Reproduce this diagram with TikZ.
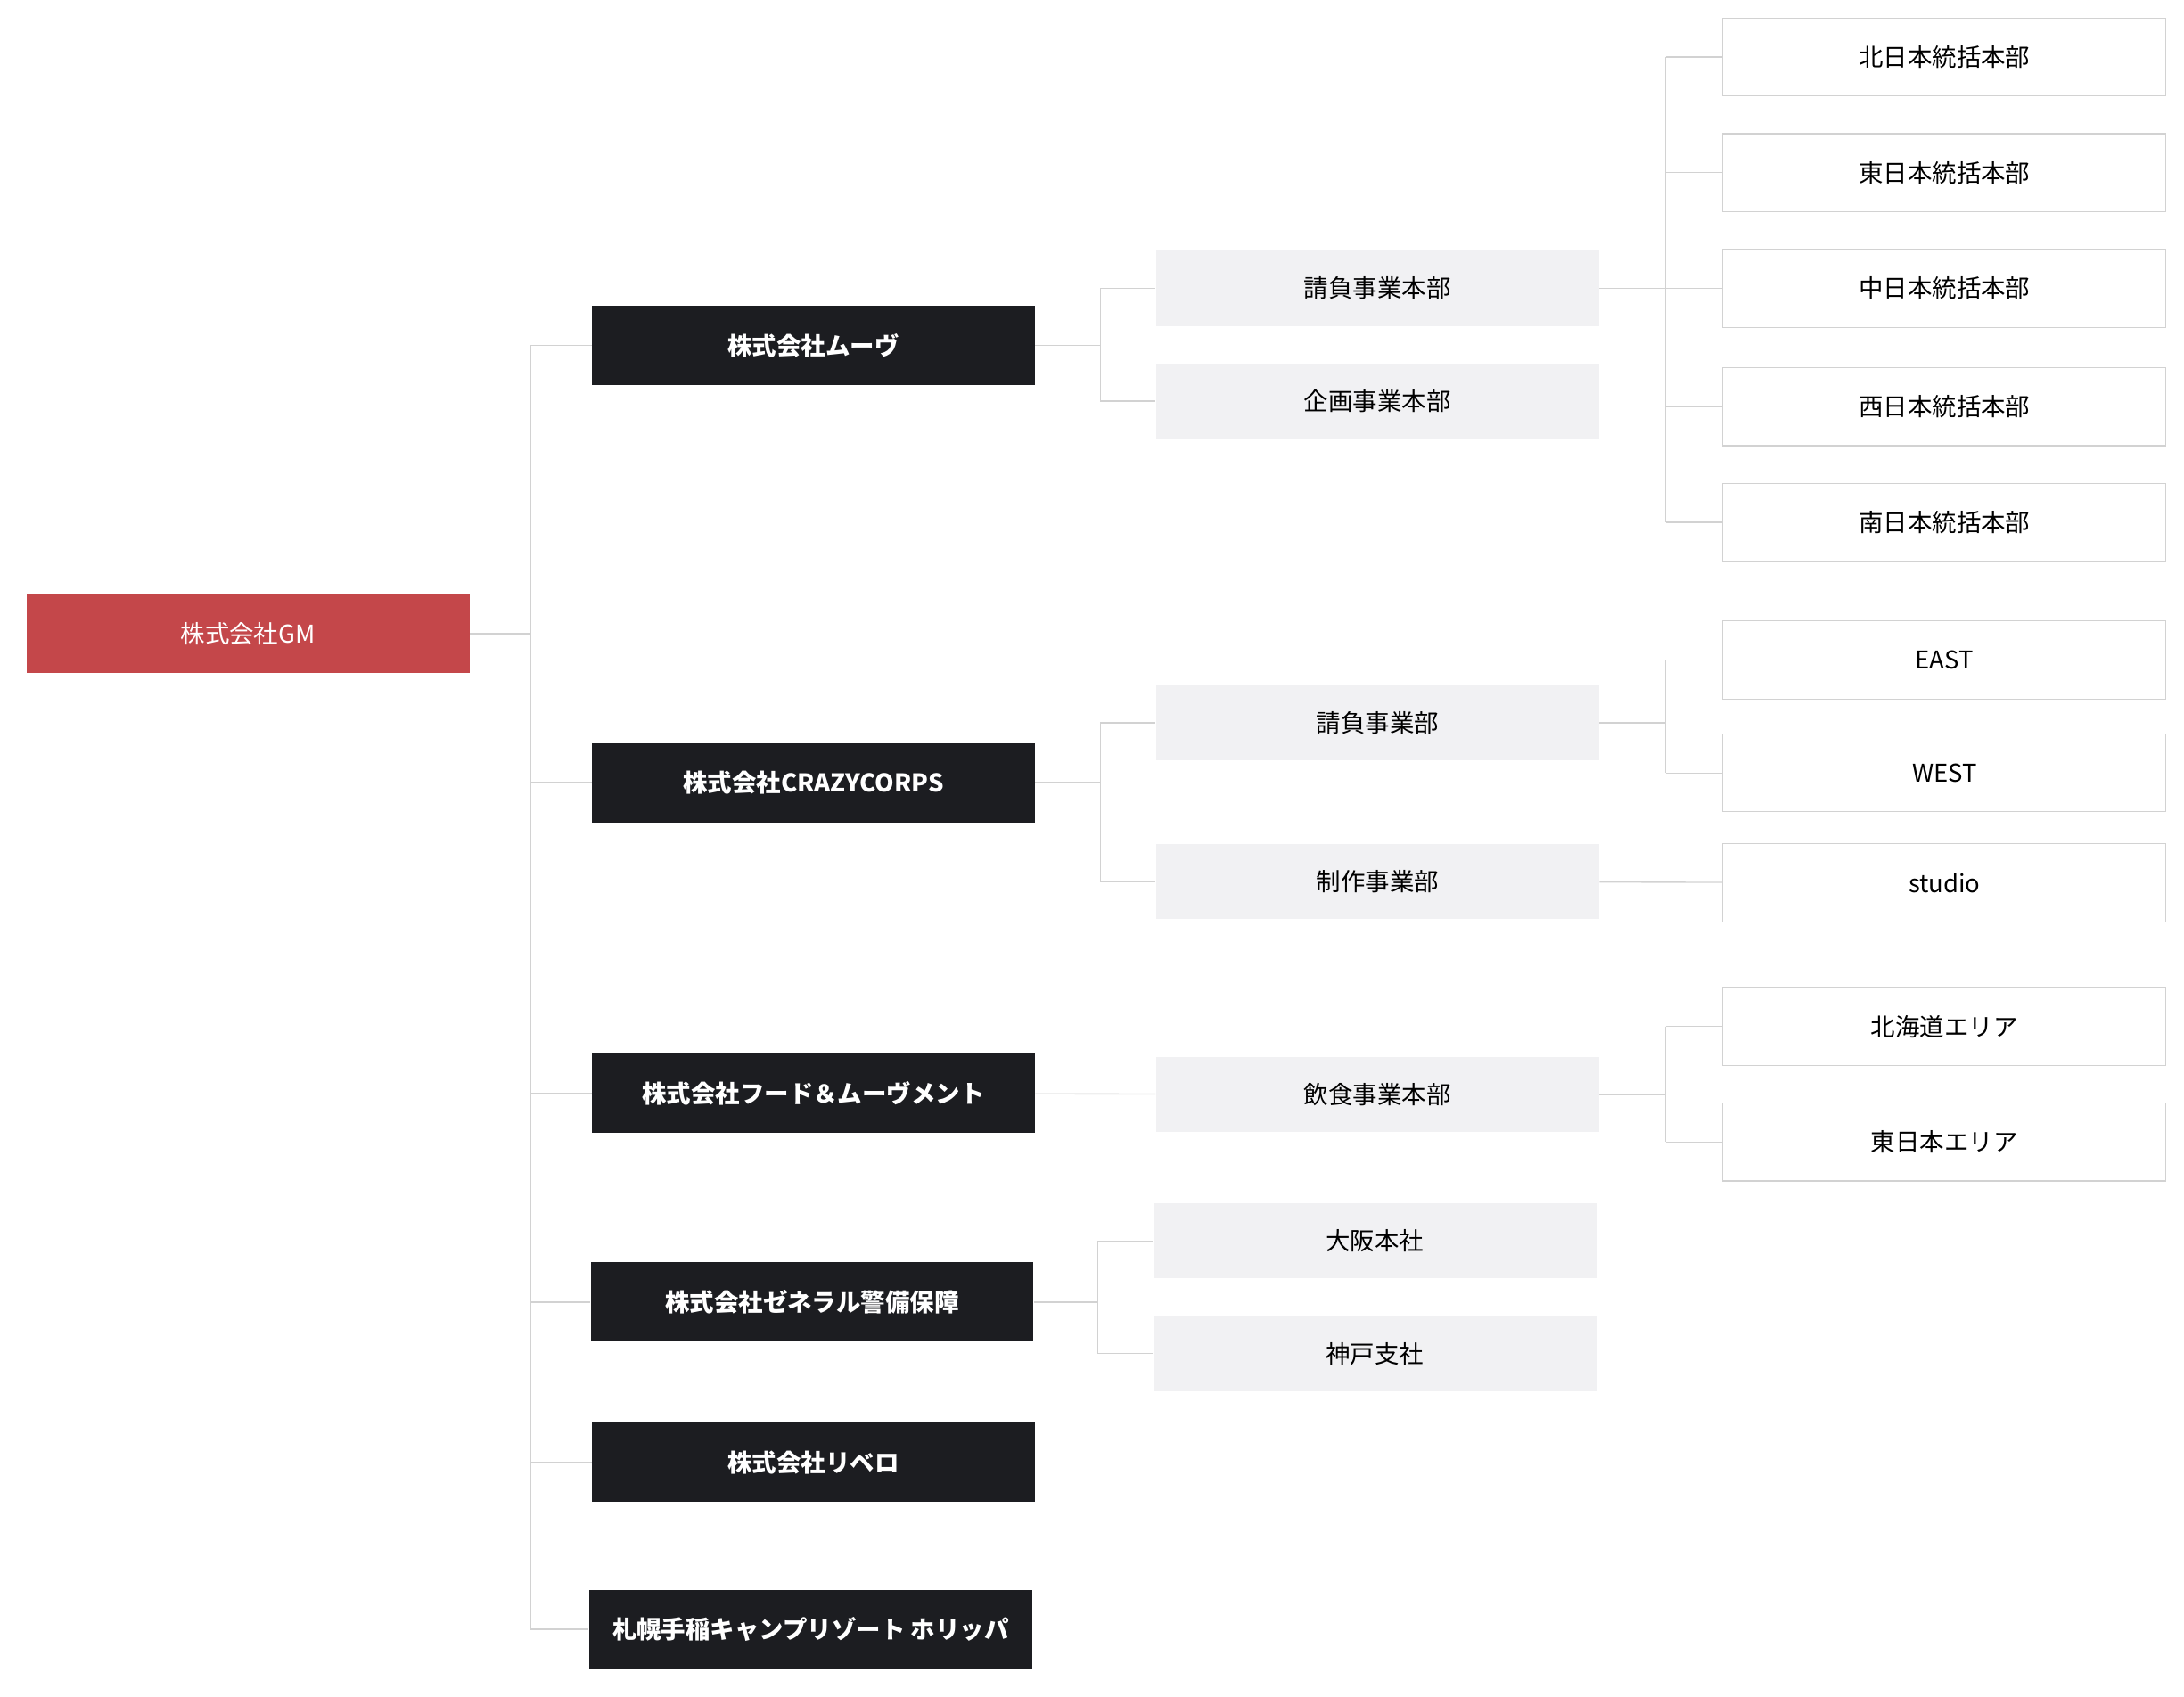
\documentclass[tikz,border=0pt]{standalone}
\usepackage{fontspec}
\setmainfont{Noto Sans CJK JP}
\usetikzlibrary{positioning}
\definecolor{gmred}{RGB}{196, 71, 74}
\definecolor{corpblack}{RGB}{28, 29, 33}
\definecolor{deptgray}{RGB}{241, 241, 243}
\definecolor{linegray}{RGB}{210, 210, 210}
\tikzset{
  top/.style = {rectangle, minimum width=6.36cm, minimum height=1.14cm, text centered, fill=gmred, text=white, font=\fontsize{10}{12}\selectfont},
  company/.style = {rectangle, minimum width=6.36cm, minimum height=1.14cm, text centered, fill=corpblack, text=white, font=\fontsize{10}{12}\selectfont\bfseries},
  dept/.style = {rectangle, minimum width=6.36cm, minimum height=1.08cm, text centered, fill=deptgray, text=black, font=\fontsize{10}{12}\selectfont},
  unit/.style = {rectangle, minimum width=6.36cm, minimum height=1.12cm, text centered, draw=linegray, fill=white, text=black, font=\fontsize{10}{12}\selectfont},
  link/.style = {draw=linegray, line width=0.5pt}
}

\begin{document}
\begin{tikzpicture}[x=0.02cm, y=-0.02cm]
\useasboundingbox (0,0) rectangle (1568,1218);

% Top
\node (gm) [top] at (178,455) {株式会社GM};

% Companies
\node (move) [company] at (584,248) {株式会社ムーヴ};
\node (crazy) [company] at (584,562) {株式会社CRAZYCORPS};
\node (food) [company] at (584,785) {株式会社フード＆ムーヴメント};
\node (guard) [company] at (583,935) {株式会社ゼネラル警備保障};
\node (ribero) [company] at (584,1050) {株式会社リベロ};
\node (horippa) [company] at (582,1170) {札幌手稲キャンプリゾート ホリッパ};

% Departments
\node (ukeoihq) [dept] at (989,207) {請負事業本部};
\node (kikaku) [dept] at (989,288) {企画事業本部};
\node (ukeoi) [dept] at (989,519) {請負事業部};
\node (seisaku) [dept] at (989,633) {制作事業部};
\node (inshoku) [dept] at (989,786) {飲食事業本部};
\node (osaka) [dept] at (987,891) {大阪本社};
\node (kobe) [dept] at (987,972) {神戸支社};

% Units
\node (north) [unit] at (1396,41) {北日本統括本部};
\node (eastj) [unit] at (1396,124) {東日本統括本部};
\node (middle) [unit] at (1396,207) {中日本統括本部};
\node (westj) [unit] at (1396,292) {西日本統括本部};
\node (south) [unit] at (1396,375) {南日本統括本部};
\node (east) [unit] at (1396,474) {EAST};
\node (west) [unit] at (1396,555) {WEST};
\node (studio) [unit] at (1396,634) {studio};
\node (hokkaido) [unit] at (1396,737) {北海道エリア};
\node (eastarea) [unit] at (1396,820) {東日本エリア};

% Connectors
\coordinate (trunk) at (381,455);
\draw [link] (gm) -- (trunk);
\foreach \c in {move,crazy,food,guard,ribero,horippa}
  \draw [link] (trunk |- \c) -- (\c.west);
\draw [link] (trunk |- move) -- (trunk |- horippa);

\coordinate (mvbr) at (790,248);
\draw [link] (move) -- (mvbr);
\foreach \d in {ukeoihq,kikaku}
  \draw [link] (mvbr |- \d) -- (\d.west);
\draw [link] (mvbr |- ukeoihq) -- (mvbr |- kikaku);

\coordinate (crbr) at (790,562);
\draw [link] (crazy) -- (crbr);
\foreach \d in {ukeoi,seisaku}
  \draw [link] (crbr |- \d) -- (\d.west);
\draw [link] (crbr |- ukeoi) -- (crbr |- seisaku);

\draw [link] (food) -- (inshoku);

\coordinate (gdbr) at (788,935);
\draw [link] (guard) -- (gdbr);
\foreach \d in {osaka,kobe}
  \draw [link] (gdbr |- \d) -- (\d.west);
\draw [link] (gdbr |- osaka) -- (gdbr |- kobe);

\coordinate (ukbr) at (1196,207);
\draw [link] (ukeoihq) -- (ukbr);
\foreach \u in {north,eastj,middle,westj,south}
  \draw [link] (ukbr |- \u) -- (\u.west);
\draw [link] (ukbr |- north) -- (ukbr |- south);

\coordinate (ewbr) at (1196,519);
\draw [link] (ukeoi) -- (ewbr);
\foreach \u in {east,west}
  \draw [link] (ewbr |- \u) -- (\u.west);
\draw [link] (ewbr |- east) -- (ewbr |- west);

\draw [link] (seisaku) -- (studio);

\coordinate (arbr) at (1196,786);
\draw [link] (inshoku) -- (arbr);
\foreach \u in {hokkaido,eastarea}
  \draw [link] (arbr |- \u) -- (\u.west);
\draw [link] (arbr |- hokkaido) -- (arbr |- eastarea);

\end{tikzpicture}
\end{document}
